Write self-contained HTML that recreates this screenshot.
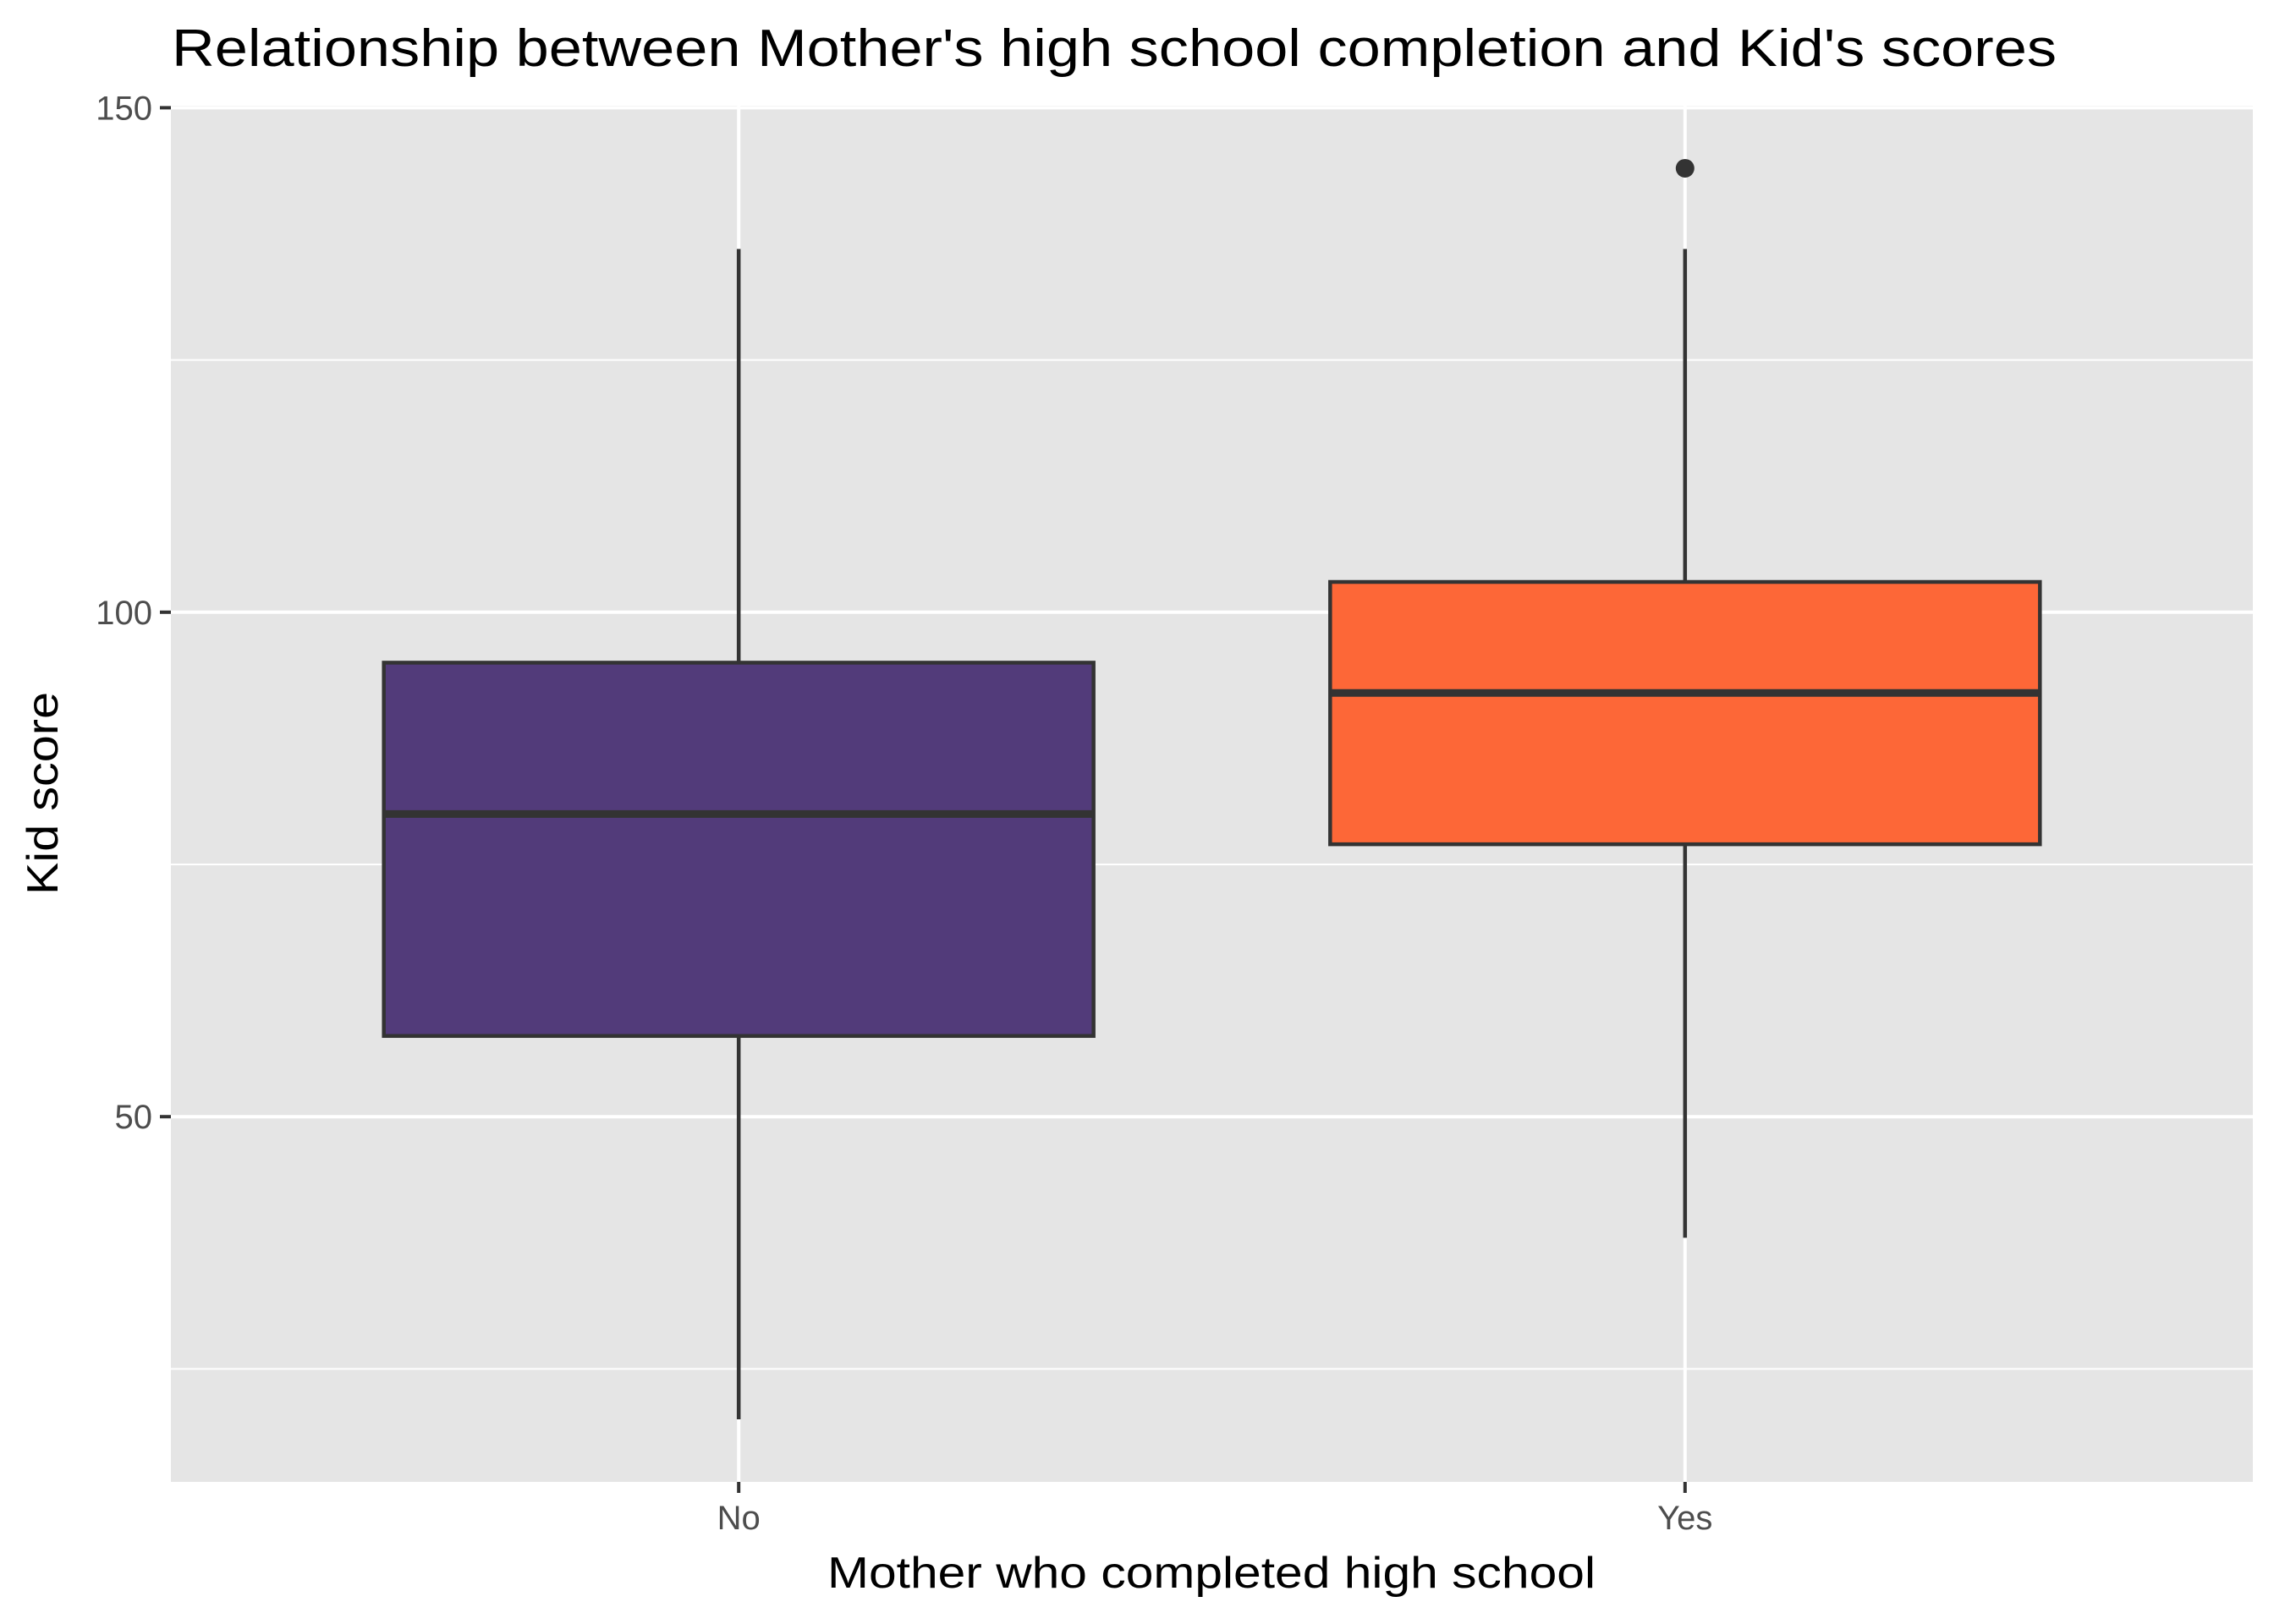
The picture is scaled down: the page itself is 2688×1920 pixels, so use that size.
<!DOCTYPE html>
<html><head><meta charset="utf-8"><style>
html,body{margin:0;padding:0;background:#fff;}
svg{display:block;font-family:"Liberation Sans",Arial,sans-serif;}
</style></head><body>
<svg id="chart" width="2688" height="1920" viewBox="0 0 2688 1920" xmlns="http://www.w3.org/2000/svg">
<rect width="2688" height="1920" fill="#fff"/>
<text x="203" y="78" font-size="62" fill="#000" textLength="2228" lengthAdjust="spacingAndGlyphs">Relationship between Mother's high school completion and Kid's scores</text>
<g id="plot"></g>
<text x="1432" y="1877" font-size="52" text-anchor="middle" fill="#000" textLength="908" lengthAdjust="spacingAndGlyphs">Mother who completed high school</text>
<text x="0" y="0" font-size="52" text-anchor="middle" fill="#000" textLength="240" lengthAdjust="spacingAndGlyphs" transform="translate(68,938) rotate(-90)">Kid score</text>
</svg>
<script>
const categories = ["No", "Yes"];
const lowerWhisker = [20, 38];
const q1 = [58, 77];
const medians = [80, 92];
const q3 = [95, 103];
const upperWhisker = [136, 136];
const outlierCat = [1];
const outlierVal = [144];
const yTicks = [50, 100, 150];
const yMinor = [25, 75, 125];
const fills = ["#523B7A", "#FD6737"];

const L = 202, R = 2663, T = 125, B = 1752;
const yMin = 13.8, yMax = 150.2;
const y = v => B - (v - yMin) / (yMax - yMin) * (B - T);
const xr0 = 0.4, xr1 = categories.length + 0.6;
const x = i => L + ((i + 1) - xr0) / (xr1 - xr0) * (R - L);
const unit = (R - L) / (xr1 - xr0);
const NS = "http://www.w3.org/2000/svg";
const g = document.getElementById('plot');
function mk(tag, attrs) {
  const e = document.createElementNS(NS, tag);
  for (const k in attrs) e.setAttribute(k, attrs[k]);
  g.appendChild(e);
  return e;
}
let e = mk('rect', {x: L, y: T, width: R - L, height: B - T, fill: '#E5E5E5'});


yMinor.forEach(v => {
  const l = mk('line', {x1: L, x2: R, y1: y(v), y2: y(v), stroke: '#fff', 'stroke-width': 2});
  
  
});
yTicks.forEach(v => {
  const l = mk('line', {x1: L, x2: R, y1: y(v), y2: y(v), stroke: '#fff', 'stroke-width': 4});
  
  
  const t = mk('line', {x1: L - 13, x2: L, y1: y(v), y2: y(v), stroke: '#333', 'stroke-width': 4});
  
  
  const tx = mk('text', {x: L - 22, y: y(v) + 14, 'font-size': 40, fill: '#4D4D4D', 'text-anchor': 'end'});
  tx.textContent = v;
  
  
});
categories.forEach((c, i) => {
  const cx = x(i);
  const l = mk('line', {x1: cx, x2: cx, y1: T, y2: B, stroke: '#fff', 'stroke-width': 4});
  
  
  const t = mk('line', {x1: cx, x2: cx, y1: B, y2: B + 13, stroke: '#333', 'stroke-width': 4});
  
  
  const tx = mk('text', {x: cx, y: B + 56, 'font-size': 40, fill: '#4D4D4D', 'text-anchor': 'middle'});
  tx.textContent = c;
  
  
});
categories.forEach((c, i) => {
  const cx = x(i), hw = unit * 0.75 / 2;
  const w1 = mk('line', {x1: cx, x2: cx, y1: y(upperWhisker[i]), y2: y(q3[i]), stroke: '#333', 'stroke-width': 4.5});
  
  
  const w2 = mk('line', {x1: cx, x2: cx, y1: y(q1[i]), y2: y(lowerWhisker[i]), stroke: '#333', 'stroke-width': 4.5});
  
  
  const b = mk('rect', {x: cx - hw, y: y(q3[i]), width: 2 * hw, height: y(q1[i]) - y(q3[i]), fill: fills[i], stroke: '#333', 'stroke-width': 4.5});
  
  
  const m = mk('line', {x1: cx - hw, x2: cx + hw, y1: y(medians[i]), y2: y(medians[i]), stroke: '#333', 'stroke-width': 9});
  
  
});
outlierCat.forEach((ci, k) => {
  const p = mk('circle', {cx: x(ci), cy: y(outlierVal[k]), r: 11, fill: '#333'});
  
  
});
</script>
</body></html>
